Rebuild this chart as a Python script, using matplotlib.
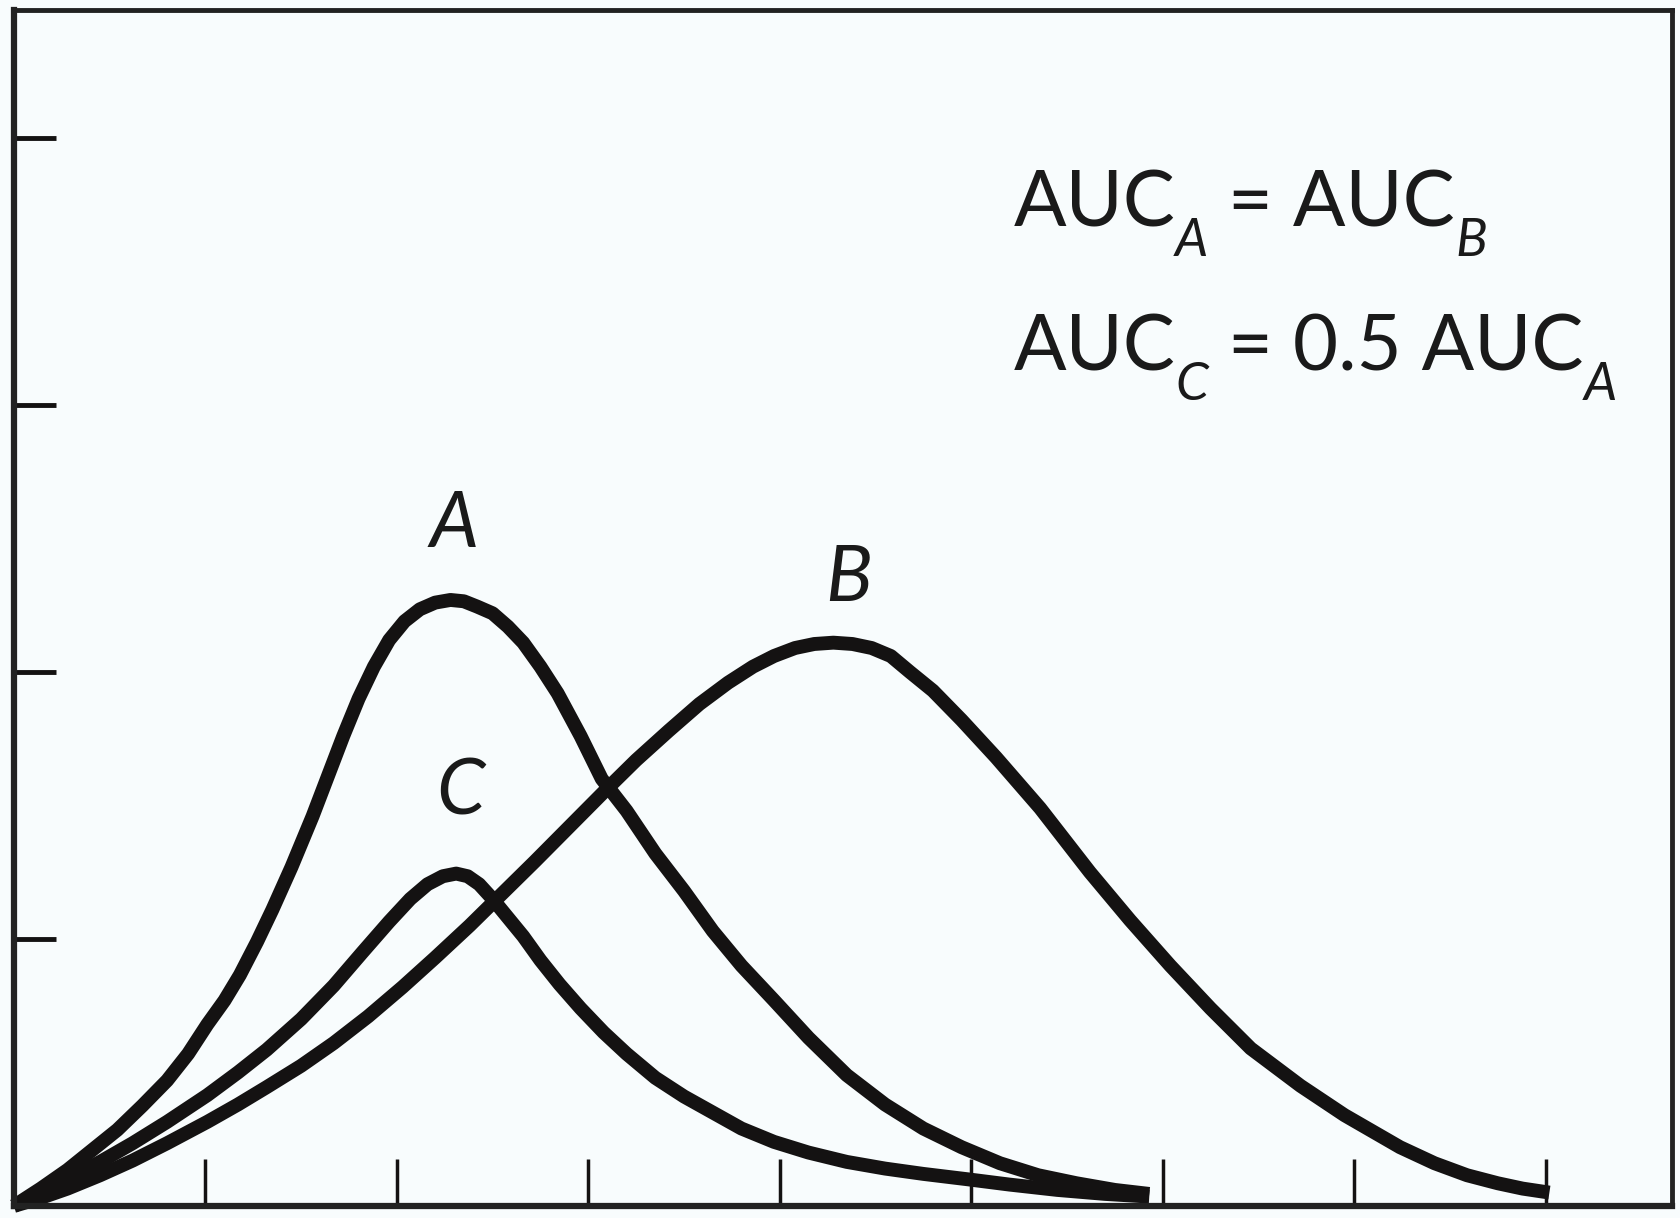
import matplotlib
matplotlib.use('Agg')
import matplotlib.pyplot as plt

# curve A
a_x = [0, 0.14, 0.28, 0.41, 0.54, 0.67, 0.80, 0.91, 1.01, 1.10, 1.18, 1.27, 1.35, 1.45, 1.56,
       1.64, 1.72, 1.80, 1.88, 1.96, 2.04, 2.12, 2.20, 2.28, 2.35, 2.42, 2.50, 2.58, 2.66, 2.75,
       2.84, 2.96, 3.07, 3.20, 3.35, 3.50, 3.65, 3.80, 3.97, 4.15, 4.35, 4.55, 4.75, 4.95, 5.15,
       5.35, 5.55, 5.75, 5.93]
a_y = [0, 0.065, 0.135, 0.21, 0.285, 0.375, 0.47, 0.57, 0.68, 0.77, 0.865, 0.99, 1.11, 1.27, 1.46,
       1.61, 1.76, 1.90, 2.02, 2.12, 2.19, 2.235, 2.26, 2.27, 2.265, 2.245, 2.22, 2.17, 2.11, 2.02,
       1.92, 1.76, 1.60, 1.48, 1.32, 1.18, 1.03, 0.90, 0.77, 0.63, 0.49, 0.38, 0.29, 0.22, 0.16,
       0.115, 0.085, 0.06, 0.045]

# curve B
b_x = [0, 0.14, 0.28, 0.45, 0.62, 0.80, 1.01, 1.17, 1.32, 1.50, 1.67, 1.85, 2.03, 2.20, 2.38,
       2.55, 2.72, 2.90, 3.08, 3.25, 3.42, 3.58, 3.73, 3.86, 3.97, 4.08, 4.18, 4.28, 4.38, 4.48,
       4.58, 4.68, 4.80, 4.95, 5.13, 5.36, 5.62, 5.83, 6.04, 6.25, 6.46, 6.72, 6.95, 7.24, 7.42,
       7.59, 7.75, 7.88, 8.02]
b_y = [0, 0.03, 0.065, 0.115, 0.17, 0.235, 0.315, 0.38, 0.445, 0.525, 0.61, 0.71, 0.82, 0.93, 1.05,
       1.17, 1.29, 1.42, 1.55, 1.67, 1.78, 1.88, 1.96, 2.02, 2.06, 2.09, 2.105, 2.11, 2.105, 2.09,
       2.06, 2.00, 1.93, 1.82, 1.68, 1.49, 1.25, 1.07, 0.90, 0.74, 0.59, 0.45, 0.34, 0.22, 0.16,
       0.115, 0.085, 0.065, 0.05]

# curve C
c_x = [0, 0.14, 0.28, 0.45, 0.62, 0.80, 1.01, 1.17, 1.32, 1.50, 1.67, 1.82, 1.96, 2.07, 2.16,
       2.24, 2.31, 2.37, 2.43, 2.50, 2.58, 2.66, 2.75, 2.85, 2.96, 3.08, 3.20, 3.35, 3.50, 3.65,
       3.80, 3.97, 4.15, 4.35, 4.55, 4.75, 4.98, 5.20, 5.45, 5.70, 5.93]
c_y = [0, 0.05, 0.10, 0.165, 0.235, 0.315, 0.415, 0.50, 0.585, 0.70, 0.825, 0.95, 1.065, 1.15, 1.205,
       1.235, 1.245, 1.235, 1.205, 1.15, 1.08, 1.01, 0.92, 0.83, 0.74, 0.65, 0.57, 0.48, 0.41, 0.35,
       0.29, 0.24, 0.20, 0.165, 0.14, 0.12, 0.10, 0.08, 0.06, 0.045, 0.035]

x_ticks = [1, 2, 3, 4, 5, 6, 7, 8]
y_ticks = [1, 2, 3, 4]

# AUC notes: (main text, subscript) pieces per line
note_1 = [('AUC', 'A'), (' = AUC', 'B')]
note_2 = [('AUC', 'C'), (' = 0.5 AUC', 'A')]

plt.rcParams['font.family'] = ['Lato', 'DejaVu Sans']

bg = '#f8fcfd'
ink = '#141212'
txt = '#1a1a1a'
fig = plt.figure(figsize=(16.81, 12.18), dpi=100, facecolor=bg)
ax = fig.add_axes([0.0083, 0.0099, 0.9863, 0.9819])
ax.set_facecolor(bg)

for xs, ys in [(a_x, a_y), (b_x, b_y), (c_x, c_y)]:
    ax.plot(xs, ys, color=ink, lw=10, solid_capstyle='butt', solid_joinstyle='round',
            clip_on=False)

ax.set_xlim(0, 8.66)
ax.set_ylim(0, 4.48)

ax.set_xticks(x_ticks)
ax.set_yticks(y_ticks)
ax.set_xticklabels([])
ax.set_yticklabels([])
ax.tick_params(axis='x', direction='in', length=34, width=2.5, color=ink)
ax.tick_params(axis='y', direction='in', length=30, width=3.5, color=ink)
for name, s in ax.spines.items():
    s.set_linewidth(4.5 if name in ('left', 'bottom') else 3.5)
    s.set_color('#222222')

ax.text(2.30, 2.55, 'A', style='italic', fontsize=56, ha='center', va='center', color=txt)
ax.text(4.36, 2.35, 'B', style='italic', fontsize=56, ha='center', va='center', color=txt)
ax.text(2.33, 1.55, 'C', style='italic', fontsize=56, ha='center', va='center', color=txt)

renderer = fig.canvas.get_renderer()
W, H = fig.get_size_inches() * fig.dpi


def write_note(x, y, pieces):
    px, py = ax.transData.transform((x, y))
    for main, sub in pieces:
        t = fig.text(px / W, py / H, main, fontsize=56, ha='left', va='baseline', color=txt)
        px += t.get_window_extent(renderer).width
        s = fig.text(px / W, (py - 30) / H, sub, fontsize=38, style='italic', ha='left',
                     va='baseline', color=txt)
        px += s.get_window_extent(renderer).width


write_note(5.22, 3.67, note_1)
write_note(5.22, 3.13, note_2)

fig.savefig('out.png', dpi=100, facecolor=bg)
